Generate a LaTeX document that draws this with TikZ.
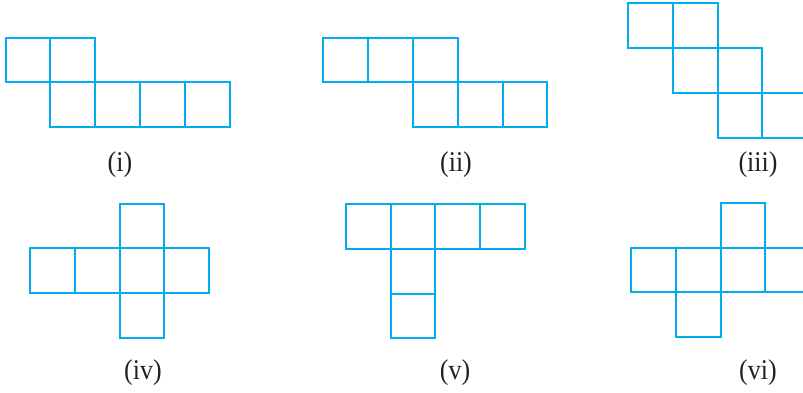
\documentclass[tikz,border=0pt]{standalone}
\usepackage{fontspec}
\setmainfont{Liberation Serif}
\definecolor{netblue}{RGB}{0,174,239}
\definecolor{labelgray}{RGB}{35,31,32}
\tikzset{
  netline/.style={draw=netblue, line width=2pt},
  caption/.style={text=labelgray, font=\fontsize{26}{30}\selectfont, inner sep=0pt, yscale=1.1}
}
\newcommand{\sqr}[4]{\draw[netline] ({#1+#3*44.8},{#2+#4*44.8}) rectangle ++(44.8,44.8);}
\begin{document}
\begin{tikzpicture}[x=1pt,y=-1pt]
\useasboundingbox (0,0) rectangle (803,392);
\clip (0,0) rectangle (803,392);
% (i)
\foreach \c/\r in {0/0,1/0,1/1,2/1,3/1,4/1} {\sqr{5.5}{37.5}{\c}{\r}}
% (ii)
\foreach \c/\r in {0/0,1/0,2/0,2/1,3/1,4/1} {\sqr{323.3}{37.5}{\c}{\r}}
% (iii)
\foreach \c/\r in {0/0,1/0,1/1,2/1,2/2,3/2} {\sqr{628}{3.3}{\c}{\r}}
% (iv)
\foreach \c/\r in {2/0,0/1,1/1,2/1,3/1,2/2} {\sqr{30}{203.5}{\c}{\r}}
% (v)
\foreach \c/\r in {0/0,1/0,2/0,3/0,1/1,1/2} {\sqr{345.7}{204}{\c}{\r}}
% (vi)
\foreach \c/\r in {2/0,0/1,1/1,2/1,3/1,1/2} {\sqr{631}{202.7}{\c}{\r}}
% labels
\node[caption] (li) at (120,165) {(i)};
\node[caption] (lii) at (456,165) {(ii)};
\node[caption] (liii) at (758,165) {(iii)};
\node[caption] (liv) at (143,373) {(iv)};
\node[caption] (lv) at (455,373) {(v)};
\node[caption] (lvi) at (758,373) {(vi)};
\end{tikzpicture}
\end{document}
